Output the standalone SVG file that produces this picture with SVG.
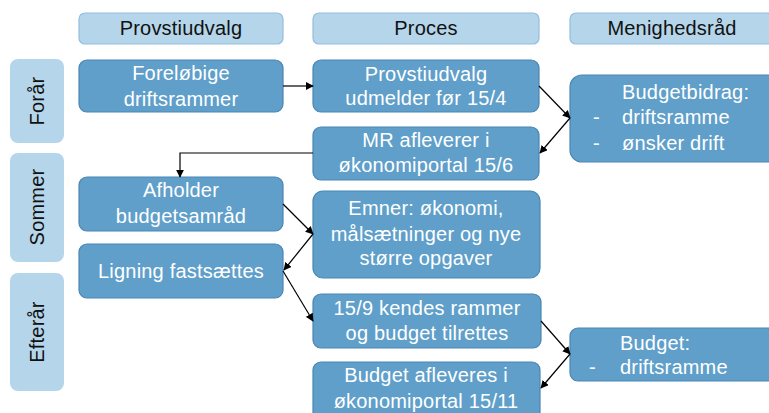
<svg xmlns="http://www.w3.org/2000/svg" width="769" height="413" viewBox="0 0 769 413">
<defs>
<style>
.hdr{fill:#B5D5EA;stroke:#93BEDD;stroke-width:1.2}
.season{fill:#B5D5EA;stroke:none}
.node{fill:#5F9FCA;stroke:#4A86B3;stroke-width:1.2}
.t{font-family:"Liberation Sans",Arial,sans-serif;font-size:20px;letter-spacing:0.2px;text-anchor:middle}
.dk{fill:#111111}
.wt{fill:#FFFFFF}
.lt{font-family:"Liberation Sans",Arial,sans-serif;font-size:20px;letter-spacing:0.2px;fill:#FFFFFF}
.conn{fill:none;stroke:#000000;stroke-width:1.2;marker-end:url(#ah)}
</style>
<marker id="ah" viewBox="0 0 10 10" refX="9" refY="5" markerWidth="8" markerHeight="8" markerUnits="userSpaceOnUse" orient="auto">
<path d="M0,0 L10,5 L0,10 z" fill="#000000"/>
</marker>
</defs>
<rect width="769" height="413" fill="#FFFFFF"/>

<g id="hdr-provstiudvalg"><rect class="hdr" x="79" y="13" width="204" height="31" rx="6"/><text class="t dk" x="181" y="35">Provstiudvalg</text></g>
<g id="hdr-proces"><rect class="hdr" x="313" y="13" width="226" height="31" rx="6"/><text class="t dk" x="426" y="35">Proces</text></g>
<g id="hdr-menighedsraad"><rect class="hdr" x="570" y="13" width="210" height="31" rx="6"/><text class="t dk" x="672" y="35">Menighedsråd</text></g>

<g id="season-foraar"><rect class="season" x="10" y="59" width="54" height="84" rx="8"/><text class="t dk" transform="translate(44,101) rotate(-90)">Forår</text></g>
<g id="season-sommer"><rect class="season" x="10" y="153" width="54" height="109" rx="8"/><text class="t dk" transform="translate(44,207) rotate(-90)">Sommer</text></g>
<g id="season-efteraar"><rect class="season" x="10" y="273" width="54" height="118" rx="8"/><text class="t dk" transform="translate(44,332) rotate(-90)">Efterår</text></g>

<g id="n-forelobige"><rect class="node" x="79" y="60" width="204" height="52" rx="8"/><text class="t wt" x="181" y="80">Foreløbige</text><text class="t wt" x="181" y="106">driftsrammer</text></g>
<g id="n-afholder"><rect class="node" x="79" y="177" width="204" height="54" rx="8"/><text class="t wt" x="181" y="197">Afholder</text><text class="t wt" x="181" y="223">budgetsamråd</text></g>
<g id="n-ligning"><rect class="node" x="79" y="244" width="204" height="54" rx="8"/><text class="t wt" x="181" y="278">Ligning fastsættes</text></g>

<g id="n-udmelder"><rect class="node" x="313" y="60" width="226" height="52" rx="8"/><text class="t wt" x="426" y="81">Provstiudvalg</text><text class="t wt" x="426" y="105">udmelder før 15/4</text></g>
<g id="n-mr"><rect class="node" x="313" y="127" width="226" height="53" rx="8"/><text class="t wt" x="426" y="147">MR afleverer i</text><text class="t wt" x="426" y="172">økonomiportal 15/6</text></g>
<g id="n-emner"><rect class="node" x="313" y="191" width="227" height="87" rx="10"/><text class="t wt" x="426" y="215">Emner: økonomi,</text><text class="t wt" x="426" y="241">målsætninger og nye</text><text class="t wt" x="426" y="265">større opgaver</text></g>
<g id="n-kendes"><rect class="node" x="313" y="294" width="228" height="54" rx="8"/><text class="t wt" x="427" y="315">15/9 kendes rammer</text><text class="t wt" x="427" y="340">og budget tilrettes</text></g>
<g id="n-afleveres"><rect class="node" x="313" y="362" width="227" height="60" rx="8"/><text class="t wt" x="426" y="382">Budget afleveres i</text><text class="t wt" x="426" y="408">økonomiportal 15/11</text></g>

<g id="n-budgetbidrag"><rect class="node" x="570" y="75" width="215" height="87" rx="12"/><text class="lt" x="622" y="99">Budgetbidrag:</text><text class="lt" x="593" y="124">-</text><text class="lt" x="622" y="124">driftsramme</text><text class="lt" x="593" y="150">-</text><text class="lt" x="622" y="150">ønsker drift</text></g>
<g id="n-budget"><rect class="node" x="570" y="328" width="215" height="53" rx="8"/><text class="lt" x="620" y="350">Budget:</text><text class="lt" x="589" y="374">-</text><text class="lt" x="620" y="374">driftsramme</text></g>

<g id="connectors">
<path class="conn" d="M283,86 L313,86"/>
<path class="conn" d="M539,86 L570,118"/>
<path class="conn" d="M570,118 L540,153"/>
<path class="conn" d="M313,153 L180,153 L180,177"/>
<path class="conn" d="M283,204 L313,234"/>
<path class="conn" d="M313,234 L284,270"/>
<path class="conn" d="M283,271 L313,321"/>
<path class="conn" d="M541,321 L570,354"/>
<path class="conn" d="M570,354 L541,388"/>
</g>
</svg>
